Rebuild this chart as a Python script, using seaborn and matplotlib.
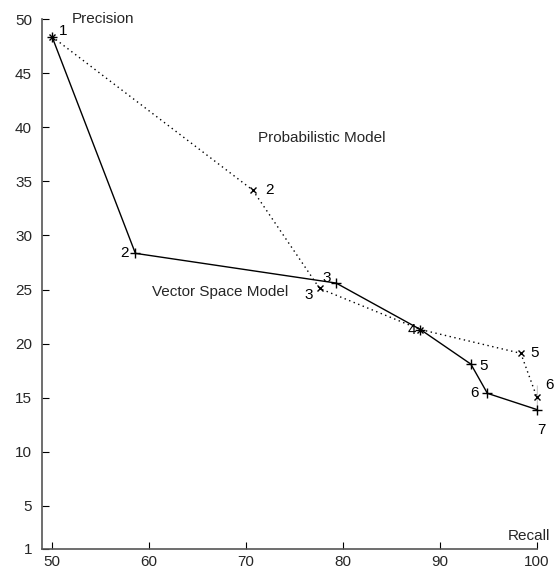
import matplotlib
matplotlib.use("Agg")
import matplotlib.pyplot as plt
import seaborn as sns
import pandas as pd

# Recall / precision points for the two retrieval models
vsm_recall = [50.0, 58.6, 79.3, 88.0, 93.2, 94.9, 100.0]
vsm_precision = [48.4, 28.35, 25.6, 21.3, 18.1, 15.4, 13.9]
vsm_labels = ["1", "2", "3", "4", "5", "6", "7"]

prob_recall = [50.0, 70.7, 77.6, 88.0, 98.35, 100.0, 100.0]
prob_precision = [48.4, 34.2, 25.1, 21.3, 19.1, 16.2, 13.9]
prob_labels = ["1", "2", "3", "4", "5", "6", "7"]

x_ticks = [50, 60, 70, 80, 90, 100]
y_ticks = [1, 5, 10, 15, 20, 25, 30, 35, 40, 45, 50]

sns.set_theme(style="white")
plt.rcParams["font.family"] = ["Liberation Sans", "DejaVu Sans"]
plt.rcParams["font.size"] = 11

fig = plt.figure(figsize=(5.54, 5.68), dpi=100)
ax = fig.add_axes([0.0753, 0.0335, 0.969 - 0.0753, 0.966 - 0.0335])

vsm = pd.DataFrame({"recall": vsm_recall, "precision": vsm_precision})
prob = pd.DataFrame({"recall": prob_recall, "precision": prob_precision})

sns.lineplot(data=vsm, x="recall", y="precision", sort=False, ax=ax,
             color="black", linewidth=1.0, marker="+", markersize=7,
             markeredgewidth=1.0, markeredgecolor="black")
sns.lineplot(data=prob, x="recall", y="precision", sort=False, ax=ax,
             color="black", linewidth=1.0, linestyle=(0, (1, 2.5)),
             marker="x", markersize=5, markeredgewidth=1.0,
             markeredgecolor="black")
# keep the marks at recall 100 whole on the right edge
for line in ax.get_lines():
    line.set_clip_on(False)

# point numbers, offset in points from each mark
vsm_offsets = [None, (-8, 0), (-7, 4), (-6, 0), (9, -1), (-9, 0), None]
prob_offsets = [(8, 4), (12, 0), (-8, -5), None, (10, 0), (9, 0), (3, -15)]

for (x, y, t, off) in zip(vsm_recall, vsm_precision, vsm_labels, vsm_offsets):
    if off is None:
        continue
    ax.annotate(t, (x, y), xytext=off, textcoords="offset points",
                ha="center", va="center", fontsize=11, color="black")
for (x, y, t, off) in zip(prob_recall, prob_precision, prob_labels, prob_offsets):
    if off is None:
        continue
    ax.annotate(t, (x, y), xytext=off, textcoords="offset points",
                ha="center", va="center", fontsize=11, color="black")

ax.text(77.8, 39.05, "Probabilistic Model", ha="center", va="center", fontsize=11)
ax.text(67.3, 24.8, "Vector Space Model", ha="center", va="center", fontsize=11)

ax.set_xlim(48.94, 100)
ax.set_ylim(1, 50)
ax.set_xticks(x_ticks)
ax.set_yticks(y_ticks)
ax.set_xticklabels([str(v) for v in x_ticks])
ax.set_yticklabels([str(v) for v in y_ticks])
ax.set_xlabel("")
ax.set_ylabel("")

for side in ("top", "right"):
    ax.spines[side].set_visible(False)
for side in ("left", "bottom"):
    ax.spines[side].set_color("#555555")
    ax.spines[side].set_linewidth(1.2)
ax.tick_params(axis="both", direction="in", length=5, width=0.8,
               color="black", labelsize=11,
               bottom=True, left=True)
ax.tick_params(axis="x", pad=4)
ax.tick_params(axis="y", pad=7)

ax.text(0.061, 1.0, "Precision", transform=ax.transAxes, ha="left",
        va="center", fontsize=11)
ax.text(1.027, 0.012, "Recall", transform=ax.transAxes, ha="right",
        va="bottom", fontsize=11)

fig.savefig("out.png", dpi=100)
